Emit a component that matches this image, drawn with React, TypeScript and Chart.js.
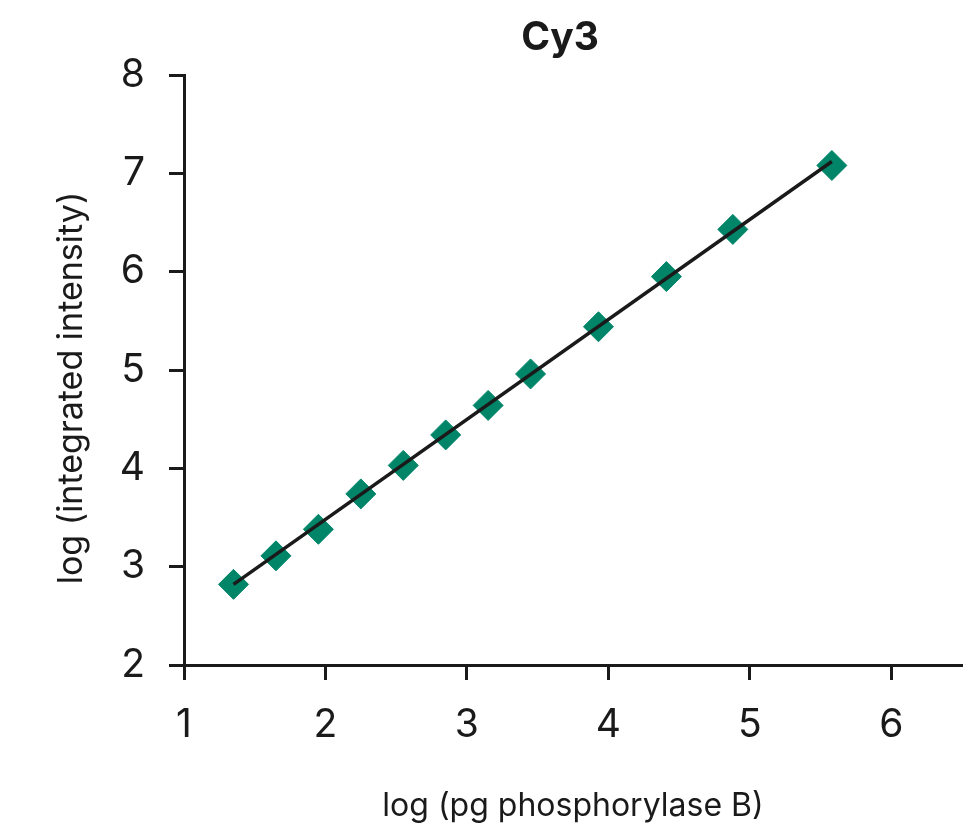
import React, { useEffect, useRef } from "react";
import { Chart, registerables } from "chart.js";

Chart.register(...registerables);

const chartTitle = "Cy3";
const xAxisTitle = "log (pg phosphorylase B)";
const yAxisTitle = "log (integrated intensity)";

const logAmount = [1.35, 1.65, 1.95, 2.25, 2.55, 2.85, 3.15, 3.45, 3.93, 4.41, 4.88, 5.58];
const logIntensity = [2.82, 3.11, 3.38, 3.74, 4.03, 4.34, 4.64, 4.96, 5.44, 5.95, 6.43, 7.08];

const fitX = [1.35, 5.58];
const fitY = [2.82, 7.12];

const xTicks = [1, 2, 3, 4, 5, 6];
const yTicks = [2, 3, 4, 5, 6, 7, 8];

const INK = "#1a1a1a";
const TEAL = "#008568";
const FONT = "Inter, 'Noto Sans', sans-serif";

const manualTitles = {
  id: "manualTitles",
  afterDraw(chart: any) {
    const ctx = chart.ctx;
    ctx.save();
    ctx.fillStyle = INK;
    ctx.textAlign = "center";
    ctx.textBaseline = "middle";
    ctx.font = `bold 39px ${FONT}`;
    ctx.fillText(chartTitle, 560, 38);
    ctx.translate(72, 388);
    ctx.rotate(-Math.PI / 2);
    ctx.font = `34px ${FONT}`;
    ctx.fillText(yAxisTitle, 0, 0);
    ctx.restore();
  },
};

export default function App() {
  const ref = useRef<HTMLCanvasElement | null>(null);

  useEffect(() => {
    document.body.style.margin = "0";
    const canvas = ref.current;
    if (!canvas) return;
    const chart = new Chart(canvas, {
      type: "scatter",
      data: {
        datasets: [
          {
            type: "line",
            label: "fit",
            data: fitX.map((x, i) => ({ x, y: fitY[i] })),
            borderColor: INK,
            borderWidth: 3.5,
            pointRadius: 0,
            fill: false,
            tension: 0,
          },
          {
            type: "scatter",
            label: "Cy3",
            data: logAmount.map((x, i) => ({ x, y: logIntensity[i] })),
            pointStyle: "rectRot",
            pointRadius: 15,
            pointBackgroundColor: TEAL,
            pointBorderColor: TEAL,
            pointBorderWidth: 1,
          },
        ],
      },
      options: {
        responsive: false,
        animation: false,
        layout: { padding: { top: 75, right: 16, bottom: 0, left: 0 } },
        plugins: {
          legend: { display: false },
          tooltip: { enabled: false },
          title: { display: false },
        },
        scales: {
          x: {
            type: "linear",
            min: 1,
            max: 6.5,
            afterFit: (s: any) => {
              s.height = 168;
              s.paddingLeft = 0;
              s.paddingRight = 0;
            },
            afterBuildTicks: (s: any) => {
              s.ticks = xTicks.map((v) => ({ value: v }));
            },
            ticks: {
              color: INK,
              font: { family: FONT, size: 39 },
              padding: 22,
              maxRotation: 0,
            },
            grid: {
              drawOnChartArea: false,
              drawTicks: true,
              tickLength: 15,
              tickWidth: 3,
              color: INK,
            },
            border: { display: true, color: INK, width: 3 },
            title: {
              display: true,
              text: xAxisTitle,
              color: INK,
              font: { family: FONT, size: 32 },
              padding: { top: 0, bottom: 7 },
            },
          },
          y: {
            type: "linear",
            min: 2,
            max: 8,
            afterFit: (s: any) => {
              s.width = 184;
              s.paddingTop = 0;
              s.paddingBottom = 0;
            },
            afterBuildTicks: (s: any) => {
              s.ticks = yTicks.map((v) => ({ value: v }));
            },
            ticks: {
              color: INK,
              font: { family: FONT, size: 39 },
              padding: 24,
            },
            grid: {
              drawOnChartArea: false,
              drawTicks: true,
              tickLength: 15,
              tickWidth: 3,
              color: INK,
            },
            border: { display: true, color: INK, width: 3 },
          },
        },
      },
      plugins: [manualTitles],
    });
    return () => chart.destroy();
  }, []);

  return (
    <div style={{ width: 978, height: 833, background: "#fff" }}>
      <canvas ref={ref} width={978} height={833} />
    </div>
  );
}
